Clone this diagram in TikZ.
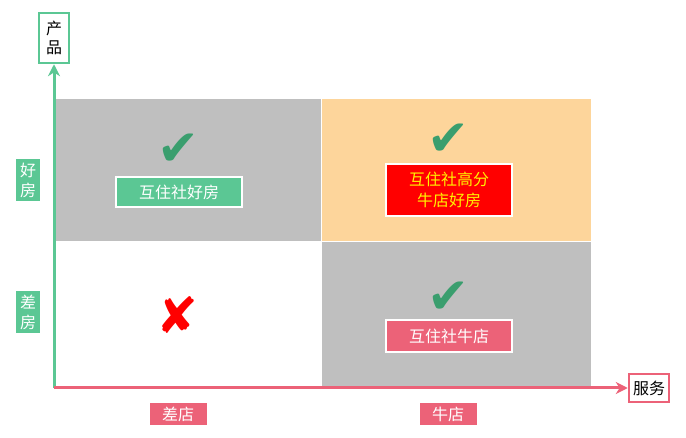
\documentclass[tikz,border=0pt]{standalone}
\usepackage{fontspec}
\newfontfamily\cjk{Noto Sans CJK SC}
\newfontfamily\sym{DejaVu Sans}
\usetikzlibrary{arrows.meta}
\definecolor{axgreen}{HTML}{5BC794}
\definecolor{axpink}{HTML}{EC6278}
\definecolor{cellgray}{HTML}{BFBFBF}
\definecolor{cellorange}{HTML}{FDD59B}
\definecolor{tick}{HTML}{3A9E6E}
\tikzset{
  cell/.style={draw=white, line width=1pt},
  axislabel/.style={draw=#1, line width=2.5pt, fill=white, inner sep=4pt, font=\cjk\fontsize{16}{19}\selectfont},
  sidelabel/.style={fill=#1, text=white, inner sep=4pt, font=\cjk\fontsize{16}{20}\selectfont, align=center},
  tag/.style={draw=white, line width=1.5pt, fill=#1, text=white, minimum width=126pt, inner sep=4pt, font=\cjk\fontsize{16}{21}\selectfont, align=center},
  bigmark/.style={font=\sym\fontsize{50}{50}\selectfont, inner sep=0pt}
}
\begin{document}
\begin{tikzpicture}[x=1pt,y=-1pt]
    \useasboundingbox (0,0) rectangle (686,438);
    % quadrants
    \fill[cellgray]   (56,99) rectangle (321,242);
    \fill[cellorange] (321,99) rectangle (591,242);
    \fill[cellgray]   (321,242) rectangle (591,386);
    \draw[cell] (321,99) -- (321,386);
    \draw[cell] (56,242) -- (591,242);

    % axes
    \coordinate (o) at (54,388);
    \node[axislabel=axgreen, align=center, minimum width=30pt, minimum height=50pt] (prod) at (54,38) {产\\品};
    \node[axislabel=axpink, minimum height=28pt] (serv) at (649,388) {服务};
    \draw[axgreen, line width=3pt, -{Stealth[length=12pt,width=12pt]}] (o) -- (prod.south);
    \draw[axpink, line width=3pt, -{Stealth[length=12pt,width=12pt]}] (o) -- (serv.west);

    % side labels
    \node[sidelabel=axgreen] (good) at (28,180) {好\\房};
    \node[sidelabel=axgreen] (bad)  at (28,312) {差\\房};
    \node[sidelabel=axpink, minimum width=57pt] (badshop)  at (178,414) {差店};
    \node[sidelabel=axpink, minimum width=57pt] (goodshop) at (448,414) {牛店};

    % marks
    \node[bigmark, text=tick] (m1) at (178,150) {✔};
    \node[bigmark, text=tick] (m2) at (448,140) {✔};
    \node[bigmark, text=tick] (m3) at (448,298) {✔};
    \node[bigmark, text=red]  (m4) at (177,315) {✘};

    % tags
    \node[tag=axgreen, minimum height=30pt] (t1) at (179,192) {互住社好房};
    \node[tag=red, text=yellow, minimum height=52pt] (t2) at (449,190) {互住社高分\\牛店好房};
    \node[tag=axpink, minimum height=32pt] (t3) at (449,336) {互住社牛店};
\end{tikzpicture}
\end{document}
